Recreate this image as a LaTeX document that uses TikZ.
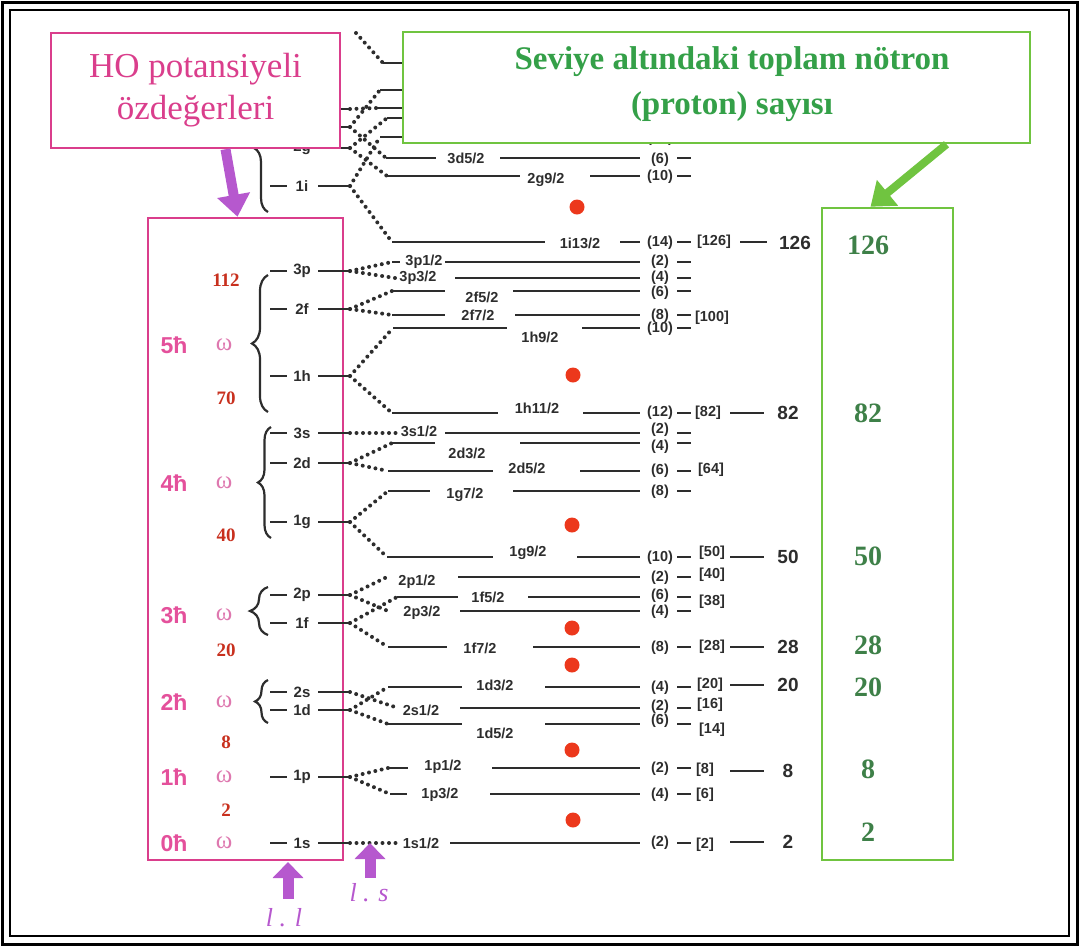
\documentclass[tikz,border=0pt]{standalone}
\usepackage{fontspec}
\setmainfont{Liberation Serif}
\setsansfont{Liberation Sans}
\usepackage{tikz}
\usetikzlibrary{arrows.meta,positioning,decorations.pathreplacing}
\definecolor{hopink}{RGB}{218,62,140}
\definecolor{hbarpink}{RGB}{228,80,155}
\definecolor{omegapink}{RGB}{222,120,175}
\definecolor{magicred}{RGB}{200,48,30}
\definecolor{gapred}{RGB}{236,56,28}
\definecolor{levelgray}{RGB}{45,45,45}
\definecolor{boxgreen}{RGB}{112,196,64}
\definecolor{textgreen}{RGB}{52,160,72}
\definecolor{numgreen}{RGB}{62,128,72}
\definecolor{arrowviolet}{RGB}{182,88,206}

\begin{document}
\begin{tikzpicture}[x=1pt, y=-1pt,
  lvl/.style={levelgray, line width=2.2pt},
  dotline/.style={levelgray, line width=4pt, line cap=round, dash pattern=on 0pt off 6.5pt},
  nlab/.style={font=\sffamily\bfseries\fontsize{15}{15}\selectfont, text=levelgray, inner sep=0},
  jlab/.style={font=\sffamily\bfseries\fontsize{14.5}{14.5}\selectfont, text=levelgray, inner sep=0},
  mlab/.style={font=\sffamily\bfseries\fontsize{19}{19}\selectfont, text=levelgray, inner sep=0},
  hbar/.style={font=\sffamily\bfseries\fontsize{23}{23}\selectfont, text=hbarpink, inner sep=0},
  omg/.style={font=\fontsize{25}{25}\selectfont, text=omegapink, inner sep=0},
  rednum/.style={font=\bfseries\fontsize{19}{19}\selectfont, text=magicred, inner sep=0},
  greennum/.style={font=\bfseries\fontsize{28}{28}\selectfont, text=numgreen, inner sep=0},
  colbox/.style={draw=#1, line width=2.5pt, inner sep=0},
  shell/.style={decorate, decoration={brace, amplitude=#1}, levelgray, line width=2.2pt},
  gapdot/.style={circle, fill=gapred, minimum size=15pt, inner sep=0},
  fatarrow/.style={-{Triangle[length=22pt, width=32pt]}, line width=10pt},
  ls/.style={font=\itshape\fontsize{26}{26}\selectfont, text=arrowviolet, inner sep=0}
]
\useasboundingbox (0,0) rectangle (1079,946);
\draw[line width=3pt] (2,2) rectangle (1077,944);
\draw[line width=1.2pt] (10,10) rectangle (1069,936);

% column boxes
\node[colbox=hopink, minimum width=195pt, minimum height=642pt] (hobox) at (245.5,539) {};
\node[colbox=boxgreen, minimum width=131pt, minimum height=652pt] (magicbox) at (887.5,534) {};

% oscillator shells
\foreach \y/\n in {345/5, 483/4, 615/3, 702/2, 777/1, 843/0} {
  \node[hbar] (h\n) at (174,\y) {\n ħ};
  \node[omg] (w\n) at (224,\y) {ω};
}
\foreach \y/\v in {280/112, 398/70, 535/40, 650/20, 742/8, 810/2}
  \node[rednum] (r\v) at (226,\y) {\v};
\draw[shell=14pt] (268,212) -- (268,84);
\draw[shell=16pt] (268,412) -- (268,275);
\draw[shell=13pt] (271,538) -- (271,427);
\draw[shell=18pt] (268,635) -- (268,587);
\draw[shell=13pt] (268,723) -- (268,680);

% HO levels
\foreach \y/\n in {109/4s, 127/3d, 148/2g, 186/1i, 271/3p, 309/2f, 376/1h, 433/3s, 463/2d, 522/1g, 595/2p, 623/1f, 692/2s, 710/1d, 777/1p, 843/1s} {
  \draw[lvl] (270,\y) -- (287,\y);
  \node[nlab] (n-\n) at (302,\y) {\n};
  \draw[lvl] (318,\y) -- (350,\y) coordinate (L-\n);
}

% spin-orbit levels
\foreach \y/\xs in {63/383, 90/380, 108/377, 118/387, 137/380} {
  \coordinate (R-h\y) at (\xs,\y);
  \draw[lvl] (R-h\y) -- (640,\y);
}
\node[jlab] (d-h137) at (660,139) {(12)};
\foreach \y/\xs/\xa/\lab/\lx/\ly/\xb/\d/\dy in {
  158/386/436/3d5/466/158/500/6/160, 176/387/520/2g9/546/180/590/10/177,
  242/392/545/1i13/580/243/620/14/243, 262/392/400/3p1/424/262/445/2/262,
  278/395/395/3p3/418/278/455/4/278, 291/392/445/2f5/482/297/513/6/293,
  315/392/445/2f7/478/315/515/8/316, 328/393/507/1h9/540/337/582/10/329,
  413/392/498/1h11/537/408/583/12/413, 433/397/397/3s1/419/431/445/2/430,
  443/392/435/2d3/467/453/520/4/447, 471/388/493/2d5/527/468/580/6/471,
  491/388/430/1g7/465/495/513/8/492, 557/387/493/1g9/528/553/577/10/558,
  577/387/387/2p1/417/582/458/2/578, 597/397/458/1f5/488/597/528/6/596,
  611/388/388/2p3/422/613/460/4/612, 647/388/447/1f7/480/648/533/8/648,
  687/388/462/1d3/495/685/545/4/688, 708/398/398/2s1/421/710/460/2/707,
  724/388/462/1d5/495/733/545/6/721, 768/388/408/1p1/443/767/492/2/769,
  794/390/407/1p3/440/795/490/4/795, 843/400/400/1s1/421/843/450/2/843} {
  \coordinate (R-\lab) at (\xs,\y);
  \draw[lvl] (R-\lab) -- (\xa,\y);
  \node[jlab] (j-\lab) at (\lx,\ly) {\lab/2};
  \draw[lvl] (\xb,\y) -- (640,\y);
  \node[jlab] (d-\lab) at (660,\dy) {(\d)};
  \draw[lvl] (677,\y) -- (691,\y);
}
\foreach \y/\x/\v in {242/714/126, 318/712/100, 413/708/82, 470/711/64, 553/712/50, 575/712/40, 602/712/38, 647/712/28, 685/710/20, 705/710/16, 730/712/14, 770/705/8, 795/705/6, 845/705/2}
  \node[jlab] (b-\v) at (\x,\y) {[\v]};
\draw[lvl] (740,242) -- (767,242);
\node[mlab] (m-126) at (795,243) {126};
\foreach \y/\v in {413/82, 557/50, 647/28, 685/20, 771/8, 842/2} {
  \draw[lvl] (730,\y) -- (764,\y);
  \node[mlab] (m-\v) at (788,\y) {\v};
}

% splitting
\coordinate (top) at (356,33);
\draw[dotline] (top) -- (R-h63);
\foreach \a/\b in {1i/h137, 1i/1i13, 2g/h118, 2g/2g9, 3d/h90, 3d/3d5, 4s/h108,
  3p/3p1, 3p/3p3, 2f/2f5, 2f/2f7, 1h/1h9, 1h/1h11, 3s/3s1, 2d/2d3, 2d/2d5,
  1g/1g7, 1g/1g9, 2p/2p1, 2p/2p3, 1f/1f5, 1f/1f7, 2s/2s1, 1d/1d3, 1d/1d5,
  1p/1p1, 1p/1p3, 1s/1s1}
  \draw[dotline] (L-\a) -- (R-\b);

% shell gaps
\foreach \x/\y [count=\i] in {577/207, 573/375, 572/525, 572/628, 572/665, 572/750, 573/820}
  \node[gapdot] (g\i) at (\x,\y) {};

% captions
\node[draw=hopink, line width=2.5pt, fill=white, minimum width=289pt, minimum height=115pt, align=center,
  font=\fontsize{35}{42}\selectfont, text=hopink] (hotop) at (195.5,90.5) {HO potansiyeli\\özdeğerleri};
\node[draw=boxgreen, line width=2.5pt, fill=white, minimum width=627pt, minimum height=111pt] (magictop) at (716.5,87.5) {};
\node[align=center, font=\bfseries\fontsize{33}{45}\selectfont, text=textgreen] (magictext) at (732,84) {Seviye altındaki toplam nötron\\(proton) sayısı};
\draw[fatarrow, arrowviolet] ([xshift=30pt]hotop.south) -- ([xshift=-8pt]hobox.north);
\draw[fatarrow, boxgreen, line width=8pt] ([xshift=230pt]magictop.south) -- ([xshift=-17pt]magicbox.north);

\foreach \y/\v in {245/126, 413/82, 556/50, 645/28, 687/20, 769/8, 832/2}
  \node[greennum] (t\v) at (868,\y) {\v};

\node[ls] (ll) at (284,918) {l . l};
\node[ls] (lsp) at (369,893) {l . s};
\coordinate (llhead) at (288,862);
\coordinate (lshead) at (370,843);
\draw[-{Triangle[length=16pt, width=30pt]}, line width=11pt, arrowviolet] ([yshift=10pt]ll.north -| llhead) -- (llhead);
\draw[-{Triangle[length=16pt, width=30pt]}, line width=11pt, arrowviolet] ([yshift=6pt]lsp.north -| lshead) -- (lshead);
\end{tikzpicture}
\end{document}
